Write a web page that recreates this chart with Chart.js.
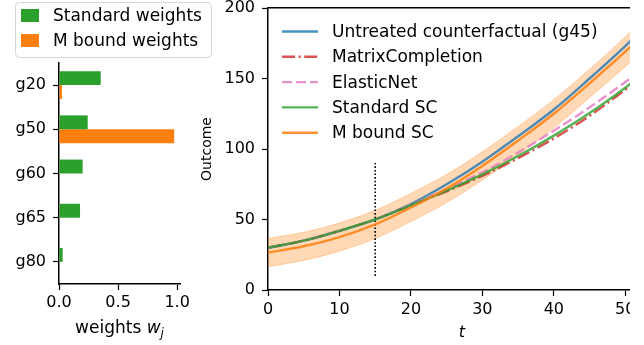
<!DOCTYPE html>
<html lang="en">
<head>
<meta charset="UTF-8" />
<title>Synthetic control weights</title>
<script src="https://cdn.jsdelivr.net/npm/chart.js@4"></script>
<style>
  body { margin: 0; background: #fff; width: 644px; height: 345px; position: relative; overflow: hidden; }
  #grafico_pesos { position: absolute; left: 0; top: 0; }
  #caixa_direita { position: absolute; left: 190px; top: 0; width: 440px; height: 345px; overflow: hidden; }
</style>
</head>
<body>
<canvas id="grafico_pesos" width="215" height="345"></canvas>
<div id="caixa_direita"><canvas id="grafico_outcome" width="485" height="345"></canvas></div>
<script>
    // left panel: donor weights
    const units = ['g20', 'g50', 'g60', 'g65', 'g80'];
    const standardWeights = [0.353, 0.243, 0.200, 0.178, 0.031];
    const mBoundWeights = [0.025, 0.975, 0, 0, 0];
    const weightTicks = [0, 0.5, 1.0];

    // right panel: outcome paths
    const tVals = [0, 5, 10, 15, 20, 25, 30, 35, 40, 45, 50, 55];
    const untreated = [30, 35, 42, 50, 61, 75, 91, 109, 128, 150, 173, 198];
    const matrixCompletion = [30, 35, 42, 50, 60, 70, 81, 93.5, 107.5, 123.5, 142, 161];
    const elasticNet = [30, 35, 42, 50, 60.5, 71.5, 83.5, 97.5, 113, 129.5, 147.5, 167];
    const standardSC = [30, 35, 42, 50, 60, 70.5, 82, 95, 109.5, 125.5, 143.5, 163];
    const mBoundSC = [26.5, 31, 37.5, 46.5, 58.5, 72, 88, 106, 125, 146.5, 169, 193];
    const mBoundHigh = [36.5, 41, 47.5, 56.5, 68.5, 82, 98, 116, 135, 156.5, 179.5, 203.5];
    const mBoundLow = [16.5, 21, 27.5, 36.5, 48.5, 62, 78, 96, 115, 136.5, 158.5, 182.5];
    const treatTime = 15;
    const treatLineY = [10, 90];
    const outcomeTicks = [0, 50, 100, 150, 200];

    Chart.defaults.font.family = '"DejaVu Sans", sans-serif';
    Chart.defaults.color = '#000';

    function pts(ys) {
        return tVals.map((t, i) => ({ x: t, y: ys[i] }));
    }

    // legend box of the weights panel (matplotlib style frame)
    const legendaPesos = {
        id: 'legendaPesos',
        afterDraw(chart) {
            const ctx = chart.ctx;
            ctx.save();
            ctx.beginPath();
            if (ctx.roundRect) ctx.roundRect(15.5, 2.5, 196, 55, 4); else ctx.rect(15.5, 2.5, 196, 55);
            ctx.fillStyle = 'rgba(255,255,255,0.8)';
            ctx.fill();
            ctx.strokeStyle = '#d6d6d6';
            ctx.lineWidth = 1;
            ctx.stroke();
            ctx.font = '17px "DejaVu Sans"';
            ctx.textBaseline = 'middle';
            chart.data.datasets.forEach((ds, i) => {
                const y = 15.5 + i * 25;
                ctx.fillStyle = ds.backgroundColor;
                ctx.fillRect(21, y - 6.5, 18, 13);
                ctx.fillStyle = '#000';
                ctx.fillText(ds.label, 53, y + 1);
            });
            // x axis title with italic w and subscript j
            const a = chart.chartArea;
            const cx = (a.left + a.right) / 2;
            const y = 329;
            ctx.font = '17px "DejaVu Sans"';
            const w1 = ctx.measureText('weights ').width;
            ctx.font = 'italic 17px "DejaVu Sans"';
            const w2 = ctx.measureText('w').width;
            ctx.font = 'italic 12px "DejaVu Sans"';
            const w3 = ctx.measureText('j').width;
            let x = cx - (w1 + w2 + w3) / 2;
            ctx.font = '17px "DejaVu Sans"';
            ctx.fillText('weights ', x, y);
            x += w1;
            ctx.font = 'italic 17px "DejaVu Sans"';
            ctx.fillText('w', x, y);
            x += w2;
            ctx.font = 'italic 12px "DejaVu Sans"';
            ctx.fillText('j', x, y + 5);
            ctx.restore();
        }
    };

    // legend of the outcome panel, drawn inside the axes
    const legendaOutcome = {
        id: 'legendaOutcome',
        afterDraw(chart) {
            const ctx = chart.ctx;
            const a = chart.chartArea;
            const itens = chart.data.datasets
                .filter(ds => ds.legendRank !== undefined)
                .sort((p, q) => p.legendRank - q.legendRank);
            ctx.save();
            ctx.font = '17px "DejaVu Sans"';
            ctx.textBaseline = 'middle';
            itens.forEach((ds, i) => {
                const y = a.top + 23.5 + i * 25.3;
                ctx.strokeStyle = ds.borderColor;
                ctx.lineWidth = ds.borderWidth;
                ctx.setLineDash(ds.borderDash || []);
                ctx.beginPath();
                ctx.moveTo(a.left + 14, y);
                ctx.lineTo(a.left + 50, y);
                ctx.stroke();
                ctx.setLineDash([]);
                ctx.fillStyle = '#000';
                ctx.fillText(ds.label, a.left + 64, y + 1);
            });
            ctx.restore();
        }
    };

    const configPesos = {
        type: 'bar',
        data: {
            labels: units,
            datasets: [{
                label: 'Standard weights',
                data: standardWeights,
                backgroundColor: '#2ca02c',
                barPercentage: 1,
                categoryPercentage: 0.63
            }, {
                label: 'M bound weights',
                data: mBoundWeights,
                backgroundColor: '#ff7f0e',
                barPercentage: 1,
                categoryPercentage: 0.63
            }]
        },
        options: {
            indexAxis: 'y',
            responsive: false,
            animation: false,
            layout: { padding: { top: 63, right: 35, left: 0, bottom: 0 } },
            plugins: { legend: { display: false }, tooltip: { enabled: false } },
            scales: {
                x: {
                    min: 0,
                    max: 1.024,
                    afterBuildTicks: s => { s.ticks = weightTicks.map(v => ({ value: v })); },
                    ticks: { callback: v => v.toFixed(1), font: { size: 16 }, color: '#000', padding: 3 },
                    grid: { drawOnChartArea: false, tickLength: 6, tickColor: '#000', tickWidth: 1.2 },
                    border: { color: '#000', width: 1.5 },
                    afterFit: s => { s.height = 61; }
                },
                y: {
                    ticks: { font: { size: 16 }, color: '#000', padding: 7 },
                    grid: { offset: false, drawOnChartArea: false, tickLength: 6, tickColor: '#000', tickWidth: 1.2 },
                    border: { color: '#000', width: 1.5 },
                    afterFit: s => { s.width = 59; }
                }
            }
        },
        plugins: [legendaPesos]
    };

    const linha = (label, ys, cor, rank, dash) => ({
        label: label,
        data: pts(ys),
        borderColor: cor,
        borderWidth: 2.4,
        borderDash: dash || [],
        pointRadius: 0,
        fill: false,
        cubicInterpolationMode: 'monotone',
        legendRank: rank
    });

    const configOutcome = {
        type: 'line',
        data: {
            datasets: [
                linha('M bound SC', mBoundSC, 'rgba(255,127,14,0.85)', 4),
                linha('Standard SC', standardSC, 'rgba(44,160,44,0.8)', 3),
                linha('ElasticNet', elasticNet, 'rgba(227,119,194,0.8)', 2, [10, 4]),
                linha('MatrixCompletion', matrixCompletion, 'rgba(214,39,40,0.8)', 1, [13, 3.5, 2.2, 3.5]),
                linha('Untreated counterfactual (g45)', untreated, 'rgba(31,119,180,0.8)', 0),
                {
                    label: 'treatment',
                    data: treatLineY.map(v => ({ x: treatTime, y: v })),
                    borderColor: '#000',
                    borderWidth: 1.6,
                    borderDash: [1.6, 2],
                    pointRadius: 0,
                    fill: false
                },
                {
                    label: 'band high',
                    data: pts(mBoundHigh),
                    borderColor: 'rgba(255,127,14,0.3)',
                    backgroundColor: 'rgba(255,127,14,0.3)',
                    borderWidth: 1,
                    pointRadius: 0,
                    cubicInterpolationMode: 'monotone',
                    fill: '+1'
                },
                {
                    label: 'band low',
                    data: pts(mBoundLow),
                    borderColor: 'rgba(255,127,14,0.3)',
                    borderWidth: 1,
                    pointRadius: 0,
                    cubicInterpolationMode: 'monotone',
                    fill: false
                }
            ]
        },
        options: {
            responsive: false,
            animation: false,
            layout: { padding: { top: 0, right: 19, left: 0, bottom: 0 } },
            plugins: { legend: { display: false }, tooltip: { enabled: false } },
            scales: {
                x: {
                    type: 'linear',
                    min: 0,
                    max: 54.3,
                    ticks: { stepSize: 10, includeBounds: false, font: { size: 16 }, color: '#000', padding: 4 },
                    grid: { drawOnChartArea: false, tickLength: 6, tickColor: '#000', tickWidth: 1.2 },
                    border: { color: '#000', width: 1.5 },
                    title: { display: true, text: 't', font: { size: 16, style: 'italic' }, padding: { top: 0, bottom: 3 } },
                    afterFit: s => { s.height = 55; }
                },
                x2: {
                    type: 'linear',
                    position: 'top',
                    grid: { display: false },
                    ticks: { display: false },
                    border: { color: '#000', width: 1.5 },
                    afterFit: s => { s.height = 0; }
                },
                y: {
                    min: 0,
                    max: 200,
                    afterBuildTicks: s => { s.ticks = outcomeTicks.map(v => ({ value: v })); },
                    ticks: { font: { size: 16 }, color: '#000', padding: 7 },
                    grid: { drawOnChartArea: false, tickLength: 6, tickColor: '#000', tickWidth: 1.2 },
                    border: { color: '#000', width: 1.5 },
                    title: { display: true, text: 'Outcome', font: { size: 14 }, padding: { top: 9, bottom: 0 } },
                    afterFit: s => { s.width = 78; s.paddingTop = 8; s.paddingBottom = 8; }
                }
            }
        },
        plugins: [legendaOutcome]
    };

    new Chart(document.getElementById('grafico_pesos'), configPesos);
    new Chart(document.getElementById('grafico_outcome'), configOutcome);
</script>
</body>
</html>
